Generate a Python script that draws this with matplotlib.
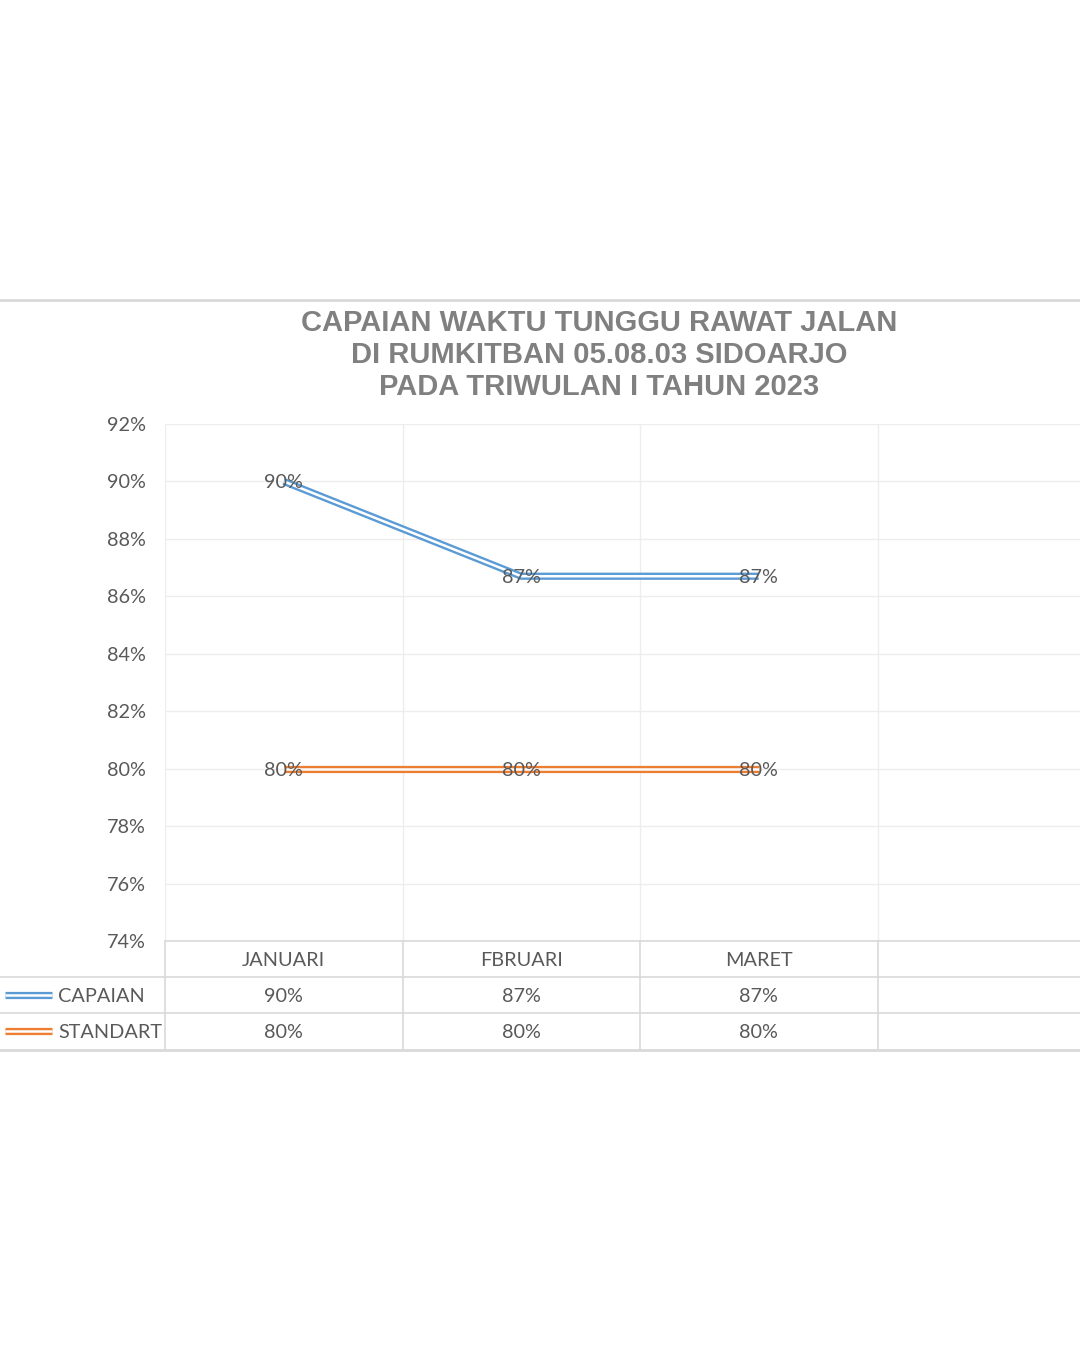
import matplotlib
matplotlib.use("Agg")
import matplotlib.pyplot as plt
from matplotlib import transforms
from matplotlib.lines import Line2D

# data
months = ["JANUARI", "FBRUARI", "MARET"]
capaian = [0.90, 0.867, 0.867]
standart = [0.80, 0.80, 0.80]
capaian_labels = ["90%", "87%", "87%"]
standart_labels = ["80%", "80%", "80%"]
y_ticks = [0.74, 0.76, 0.78, 0.80, 0.82, 0.84, 0.86, 0.88, 0.90, 0.92]
title_lines = [
    "CAPAIAN WAKTU TUNGGU RAWAT JALAN",
    "DI RUMKITBAN 05.08.03 SIDOARJO",
    "PADA TRIWULAN I TAHUN 2023",
]

BLUE = "#5B9BD5"
ORANGE = "#ED7D31"
TEXT = "#595959"
GRID = "#EDEDED"
TABLE = "#D9D9D9"
FS = 14.3

W, H = 1080, 1350
fig = plt.figure(figsize=(W / 100, H / 100), dpi=100)
fig.patch.set_facecolor("white")


def fy(py):
    # pixel row (from top) -> figure fraction
    return 1 - py / H


col_w = 237.5
ax_left, ax_top, ax_bot = 165, 424, 941
ax = fig.add_axes([ax_left / W, fy(ax_bot), 4 * col_w / W, (ax_bot - ax_top) / H])
ax.set_xlim(-0.5, 3.5)
ax.set_ylim(y_ticks[0], y_ticks[-1])
for s in ax.spines.values():
    s.set_visible(False)
ax.set_xticks([])
ax.set_yticks(y_ticks)
ax.set_yticklabels([f"{round(t * 100)}%" for t in y_ticks])
ax.tick_params(axis="y", length=0, pad=14, labelsize=FS, labelcolor=TEXT)
for lab in ax.get_yticklabels():
    lab.set_family("Lato")
    lab.set_verticalalignment("center_baseline")

for t in y_ticks:
    ax.axhline(t, color=GRID, lw=1, zorder=0)
for b in [-0.5, 0.5, 1.5, 2.5]:
    ax.axvline(b, color=GRID, lw=1, zorder=0)


def double_line(x, y, color):
    ax.plot(x, y, color=color, lw=5.2, solid_capstyle="butt", zorder=3)
    ax.plot(x, y, color="white", lw=1.8, solid_capstyle="butt", zorder=4)


xs = list(range(len(months)))
double_line(xs, capaian, BLUE)
double_line(xs, standart, ORANGE)
for x, v, lab in zip(xs, capaian, capaian_labels):
    ax.text(x, v, lab, ha="center", va="center_baseline", fontsize=FS,
            color=TEXT, family="Lato", zorder=5)
for x, v, lab in zip(xs, standart, standart_labels):
    ax.text(x, v, lab, ha="center", va="center_baseline", fontsize=FS,
            color=TEXT, family="Lato", zorder=5)

# data table under the plot
tr = transforms.blended_transform_factory(ax.transData, fig.transFigure)
fig.add_artist(Line2D([0, 1], [fy(977)] * 2, color=TABLE, lw=1.2))
fig.add_artist(Line2D([0, 1], [fy(1013)] * 2, color=TABLE, lw=1.2))
fig.add_artist(Line2D([ax_left / W, 1], [fy(941)] * 2, color=TABLE, lw=1.2))
for b in [-0.5, 0.5, 1.5, 2.5]:
    fig.add_artist(Line2D([b, b], [fy(941), fy(1049)], color=TABLE, lw=1.2,
                          transform=tr))


def mid(a, b):
    return fy((a + b) / 2)


for x, m in zip(xs, months):
    fig.text(x, mid(941, 977), m, transform=tr, ha="center",
             va="center_baseline", fontsize=FS, color=TEXT, family="Lato")
for x, lab in zip(xs, capaian_labels):
    fig.text(x, mid(977, 1013), lab, transform=tr, ha="center",
             va="center_baseline", fontsize=FS, color=TEXT, family="Lato")
for x, lab in zip(xs, standart_labels):
    fig.text(x, mid(1013, 1049), lab, transform=tr, ha="center",
             va="center_baseline", fontsize=FS, color=TEXT, family="Lato")

for name, color, (a, b) in [("CAPAIAN", BLUE, (977, 1013)),
                            ("STANDART", ORANGE, (1013, 1049))]:
    yk = mid(a, b)
    fig.add_artist(Line2D([5 / W, 52 / W], [yk, yk], color=color, lw=5.2,
                          solid_capstyle="butt"))
    fig.add_artist(Line2D([5 / W, 52 / W], [yk, yk], color="white", lw=1.8,
                          solid_capstyle="butt"))
    fig.text(58 / W, yk, name, ha="left", va="center_baseline", fontsize=FS,
             color=TEXT, family="Lato")

# chart frame lines
fig.add_artist(Line2D([0, 1], [fy(300)] * 2, color=TABLE, lw=2))
fig.add_artist(Line2D([0, 1], [fy(1050)] * 2, color=TABLE, lw=2))

for i, line in enumerate(title_lines):
    fig.text(599 / W, fy(320 + 32 * i), line, ha="center",
             va="center_baseline", fontsize=21, fontweight="bold",
             color="#808080", family="Liberation Sans")

fig.savefig("out.png", dpi=100)
